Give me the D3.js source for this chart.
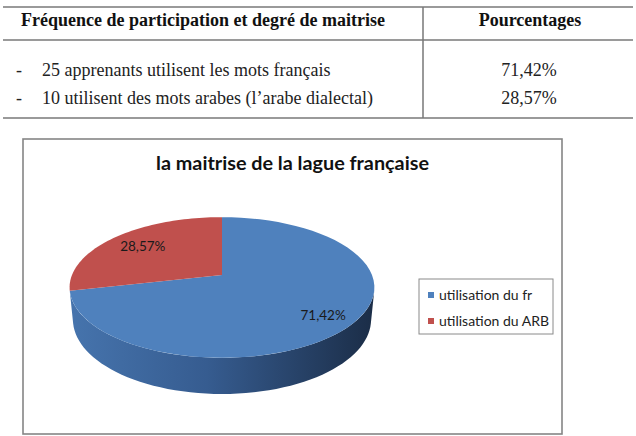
<!DOCTYPE html>
<html>
<head>
<meta charset="utf-8">
<script src="https://cdn.jsdelivr.net/npm/d3@7"></script>
<style>
  body { margin: 0; background: #fff; }
  svg { display: block; }
</style>
</head>
<body>
<svg id="chart"></svg>
<script>
// data
const tableHeaders = ["Fréquence de participation et degré de maitrise", "Pourcentages"];
const tableRows = ["25 apprenants utilisent les mots français", "10 utilisent des mots arabes (l’arabe dialectal)"];
const categories = ["utilisation du fr", "utilisation du ARB"];
const values = [71.42, 28.57];
const colors = ["#4F81BD", "#C0504D"];
const chartTitle = "la maitrise de la lague française";

const width = 636, height = 436;
const fmt = v => d3.format(".2f")(v).replace(".", ",") + "%";

const svg = d3.select("#chart").attr("width", width).attr("height", height);

// ---- table ----
const table = svg.append("g");
const lineColor = "#9a9a9a";
[7, 40, 118].forEach(y => {
    table.append("line")
        .attr("x1", 3).attr("x2", 633).attr("y1", y).attr("y2", y)
        .attr("stroke", lineColor).attr("stroke-width", 2);
});
table.append("line")
    .attr("x1", 423).attr("x2", 423).attr("y1", 7).attr("y2", 118)
    .attr("stroke", "#777").attr("stroke-width", 1.5);

const serif = "'Liberation Serif', 'Times New Roman', serif";
table.append("text")
    .attr("x", 21).attr("y", 26)
    .attr("font-family", serif).attr("font-weight", "bold").attr("font-size", 18)
    .attr("fill", "#111")
    .text(tableHeaders[0]);
table.append("text")
    .attr("x", 530).attr("y", 26).attr("text-anchor", "middle")
    .attr("font-family", serif).attr("font-weight", "bold").attr("font-size", 18)
    .attr("fill", "#111")
    .text(tableHeaders[1]);

const rowY = d3.scalePoint().domain(d3.range(tableRows.length)).range([76, 104]);
tableRows.forEach((r, i) => {
    table.append("text").attr("x", 16).attr("y", rowY(i))
        .attr("font-family", serif).attr("font-size", 18).attr("fill", "#222").text("-");
    table.append("text").attr("x", 42).attr("y", rowY(i))
        .attr("font-family", serif).attr("font-size", 18).attr("fill", "#222").text(r);
    table.append("text").attr("x", 529).attr("y", rowY(i)).attr("text-anchor", "middle")
        .attr("font-family", serif).attr("font-size", 18).attr("fill", "#222").text(fmt(values[i]));
});

// ---- chart box ----
const box = {x: 23, y: 139, w: 539, h: 296};
svg.append("rect")
    .attr("x", box.x).attr("y", box.y).attr("width", box.w).attr("height", box.h - 1)
    .attr("fill", "none").attr("stroke", "#858585").attr("stroke-width", 1.6);

const sans = "Lato, 'Open Sans', sans-serif";
svg.append("text")
    .attr("x", box.x + box.w / 2).attr("y", 170).attr("text-anchor", "middle")
    .attr("font-family", sans).attr("font-weight", "bold").attr("font-size", 19.8)
    .attr("fill", "#111")
    .text(chartTitle);

// ---- 3D pie (perspective projection of a flat cylinder) ----
const cx = 222, cy = 275;      // apex of the top face
const S = 150;                 // pixels per radius at apex depth
const k = 0.199;               // radius / camera distance
const tilt = 27 * Math.PI / 180;
const H = 0.2425;              // thickness in radius units
const sinT = Math.sin(tilt), cosT = Math.cos(tilt);

function project(a, r, h) {
    const X = r * Math.sin(a), Z = -r * Math.cos(a);
    const q = 1 - k * (h * sinT + Z * cosT);
    return [cx + S * X / q, cy - S * (h * cosT - Z * sinT) / q];
}

const pie = d3.pie().sort(null).value(d => d)(values);
const line = d3.line();
const rim = (a0, a1, h) => d3.range(0, 61).map(i => project(a0 + (a1 - a0) * i / 60, 1, h));

const defs = svg.append("defs");
const grad = defs.append("linearGradient").attr("id", "sideGrad")
    .attr("gradientUnits", "userSpaceOnUse")
    .attr("x1", 70).attr("x2", 374).attr("y1", 0).attr("y2", 0);
[["0%", "#4674AD"], ["45%", "#365C90"], ["100%", "#1B2D47"]].forEach(s =>
    grad.append("stop").attr("offset", s[0]).attr("stop-color", s[1]));

// visible part of the side wall
const vis0 = Math.acos(-k / cosT), vis1 = 2 * Math.PI - vis0;
const pieG = svg.append("g");
pie.forEach((d, i) => {
    const a0 = Math.max(d.startAngle, vis0), a1 = Math.min(d.endAngle, vis1);
    if (a1 <= a0) return;
    const pts = rim(a0, a1, 0).concat(rim(a1, a0, -H));
    pieG.append("path")
        .attr("d", line(pts) + "Z")
        .attr("fill", i === 0 ? "url(#sideGrad)" : d3.color(colors[i]).darker(1));
});
pie.forEach((d, i) => {
    const pts = [project(0, 0, 0)].concat(rim(d.startAngle, d.endAngle, 0));
    pieG.append("path")
        .attr("d", line(pts) + "Z")
        .attr("fill", colors[i]);
});
pie.forEach((d, i) => {
    const p = project((d.startAngle + d.endAngle) / 2, 0.78, 0);
    pieG.append("text")
        .attr("x", p[0] + (i === 0 ? 1 : 5)).attr("y", p[1] + (i === 0 ? 4 : 2)).attr("dy", "0.36em")
        .attr("text-anchor", "middle")
        .attr("font-family", sans).attr("font-size", 13.5).attr("fill", "#1a1a1a")
        .text(fmt(d.data));
});

// ---- legend ----
const legend = svg.append("g");
legend.append("rect")
    .attr("x", 419).attr("y", 279).attr("width", 134).attr("height", 55)
    .attr("fill", "#fff").attr("stroke", "#8a8a8a").attr("stroke-width", 1);
const legY = d3.scalePoint().domain(categories).range([295, 321]);
categories.forEach((c, i) => {
    legend.append("rect")
        .attr("x", 428).attr("y", legY(c) - 3).attr("width", 6).attr("height", 6)
        .attr("fill", colors[i]);
    legend.append("text")
        .attr("x", 439).attr("y", legY(c)).attr("dy", "0.35em")
        .attr("font-family", sans).attr("font-size", 14).attr("fill", "#222")
        .text(c);
});
</script>
</body>
</html>
